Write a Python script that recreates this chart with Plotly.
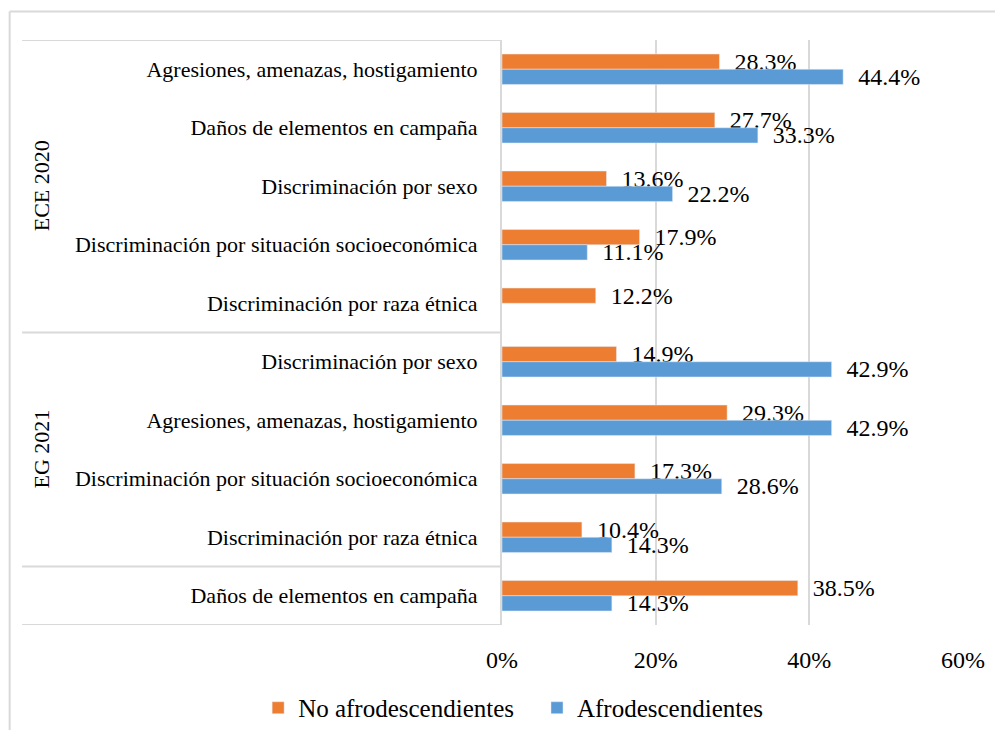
import plotly.graph_objects as go

# datos
grupos = ["ECE 2020"] * 5 + ["EG 2021"] * 4 + [""]
categorias = [
    "Agresiones, amenazas, hostigamiento",
    "Daños de elementos en campaña",
    "Discriminación por sexo",
    "Discriminación por situación socioeconómica",
    "Discriminación por raza étnica",
    "Discriminación por sexo",
    "Agresiones, amenazas, hostigamiento",
    "Discriminación por situación socioeconómica",
    "Discriminación por raza étnica",
    "Daños de elementos en campaña",
]
no_afro = [28.3, 27.7, 13.6, 17.9, 12.2, 14.9, 29.3, 17.3, 10.4, 38.5]
afro = [44.4, 33.3, 22.2, 11.1, None, 42.9, 42.9, 28.6, 14.3, 14.3]
x_ticks = [0, 20, 40, 60]

pos = list(range(len(categorias)))
fuente = "Liberation Serif"
gris = "#d9d9d9"
f_num = dict(family=fuente, size=24, color="black")

fig = go.Figure()
fig.add_trace(go.Bar(y=pos, x=no_afro, orientation="h", name="No afrodescendientes",
                     marker_color="#ED7D31", texttemplate="\u00a0\u00a0%{x:.1f}%",
                     textposition="outside", cliponaxis=False, constraintext="none",
                     textfont=f_num, legend="legend", showlegend=True))
fig.add_trace(go.Bar(y=pos, x=afro, orientation="h", name="Afrodescendientes",
                     marker_color="#5B9BD5", texttemplate="\u00a0\u00a0%{x:.1f}%",
                     textposition="outside", cliponaxis=False, constraintext="none",
                     textfont=f_num, legend="legend2", showlegend=True))

# separadores y etiquetas de grupo
shapes = []
annotations = []
limites = [-0.5]
for i in range(1, len(grupos)):
    if grupos[i] != grupos[i - 1]:
        limites.append(i - 0.5)
limites.append(len(grupos) - 0.5)
for b in limites:
    shapes.append(dict(type="line", xref="paper", yref="y", x0=-1.041, x1=0, y0=b, y1=b,
                       line=dict(color=gris, width=2)))
for a, b in zip(limites[:-1], limites[1:]):
    nombre = grupos[int(a + 0.5)]
    if nombre:
        annotations.append(dict(text=nombre, xref="paper", yref="y", x=-1.0, y=(a + b) / 2,
                                textangle=-90, showarrow=False, xanchor="center",
                                font=dict(family=fuente, size=22, color="black")))

# borde del area del grafico
shapes.append(dict(type="line", xref="paper", yref="paper", x0=-1.068, x1=1.1, y0=1.0487, y1=1.0487,
                   line=dict(color=gris, width=2)))
shapes.append(dict(type="line", xref="paper", yref="paper", x0=-1.068, x1=-1.068, y0=1.0487, y1=-0.3,
                   line=dict(color=gris, width=2)))

leyenda = dict(orientation="h", xanchor="left", xref="paper",
               y=0.0305, yanchor="middle", yref="container",
               font=dict(family=fuente, size=25, color="black"))

# la pagina tiene un margen de 8 px alrededor del grafico
fig.update_layout(
    width=987, height=722,
    margin=dict(l=494, r=32, t=32, b=105),
    paper_bgcolor="white", plot_bgcolor="white",
    font=dict(family=fuente, size=22, color="black"),
    barmode="group", bargap=0.48, bargroupgap=0,
    shapes=shapes, annotations=annotations,
    showlegend=True,
    legend=dict(leyenda, x=-0.529),
    legend2=dict(leyenda, x=0.0759),
)
fig.update_xaxes(range=[0, 60], tickvals=x_ticks, ticktext=[f"{v}%" for v in x_ticks],
                 showgrid=True, gridcolor=gris, gridwidth=2, zeroline=False, showline=False,
                 tickfont=f_num, ticklabelstandoff=18, automargin=False)
fig.update_yaxes(range=[len(categorias) - 0.5, -0.5], tickvals=pos, ticktext=categorias,
                 showgrid=False, zeroline=False, showline=True, linecolor=gris, linewidth=2,
                 tickfont=dict(family=fuente, size=22, color="black"),
                 ticklabelstandoff=18, automargin=False)

fig.write_html("out.html")
